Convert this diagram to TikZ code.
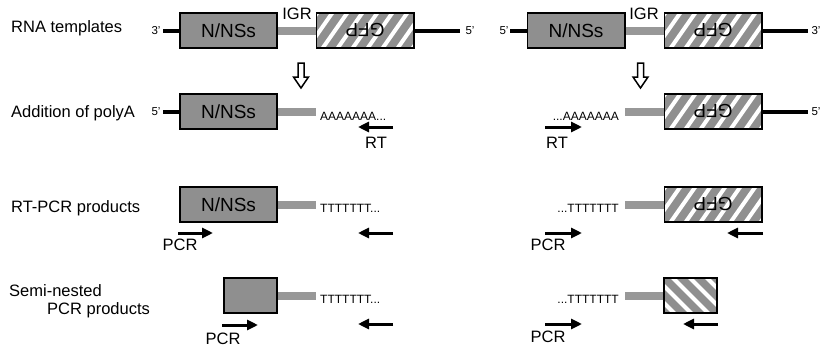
\documentclass[tikz,border=0pt]{standalone}
\usepackage{fontspec}
\setmainfont{Liberation Sans}
\usetikzlibrary{arrows.meta}
\definecolor{boxgray}{RGB}{143,143,143}
\definecolor{igrgray}{RGB}{152,152,152}
\begin{document}
\begin{tikzpicture}[x=1pt,y=-1pt,
  lbl/.style={font=\fontsize{16.5}{18}\selectfont, inner sep=0pt, anchor=west},
  prime/.style={font=\fontsize{11.5}{12}\selectfont, inner sep=0pt},
  seq/.style={font=\fontsize{12}{13}\selectfont, inner sep=0pt},
  plbl/.style={font=\fontsize{16.5}{18}\selectfont, inner sep=0pt},
  gbox/.style={draw=black, line width=1.8pt, fill=boxgray, minimum height=35.2pt, minimum width=97.2pt, inner sep=0pt, font=\fontsize{19}{20}\selectfont},
  hbox/.style={gbox, path picture={\foreach \i in {-12,...,12}{\draw[white,line width=4pt] ([xshift=\i*15pt]path picture bounding box.center) ++(-34.4pt,-49.1pt) -- ++(68.8pt,98.3pt);}}},
  hboxb/.style={gbox, path picture={\foreach \i in {-6,...,6}{\draw[white,line width=4.2pt] ([xshift=\i*17pt]path picture bounding box.center) ++(-50pt,50pt) -- ++(100pt,-100pt);}}},
  rna/.style={line width=4pt},
  igr/.style={line width=8pt, draw=igrgray},
  primer/.style={line width=3pt, -{Triangle[length=11pt,width=10pt]}},
  down/.style={draw=black, line width=1.5pt, fill=white},
]
\path[use as bounding box] (0,0) rectangle (823,348);

% row labels
\node[lbl] (l1) at (11,28) {RNA templates};
\node[lbl] (l2) at (11,113) {Addition of polyA};
\node[lbl] (l3) at (11,208) {RT-PCR products};
\node[lbl] (l4a) at (9,291) {Semi-nested};
\node[lbl] (l4b) at (47,310) {PCR products};

% ===== Row 1 left
\node[gbox] (n1) at (228.5,30.5) {N/NSs};
\node[hbox] (g1) at (365,30.5) {\rotatebox{180}{GFP}};
\coordinate (a1) at (163,30.5);
\coordinate (b1) at (460,30.5);
\draw[rna] (a1) -- (n1.west);
\draw[rna] (g1.east) -- (b1);
\draw[igr] (n1.east) -- (g1.west);
\node[prime] (p1) at (156,30.5) {3’};
\node[prime] (p2) at (470,30.5) {5’};
\node[plbl] (igr1) at (297,14) {IGR};

% ===== Row 1 right
\node[gbox] (n2) at (576,30.5) {N/NSs};
\node[hbox] (g2) at (713,30.5) {\rotatebox{180}{GFP}};
\coordinate (a2) at (510,30.5);
\coordinate (b2) at (808,30.5);
\draw[rna] (a2) -- (n2.west);
\draw[rna] (g2.east) -- (b2);
\draw[igr] (n2.east) -- (g2.west);
\node[prime] (p3) at (504,30.5) {5’};
\node[prime] (p4) at (816,30.5) {3’};
\node[plbl] (igr2) at (644,14) {IGR};

% down arrows
\draw[down] (298,63) -- (304,63) -- (304,77) -- (308.5,77) -- (301,88) -- (293.5,77) -- (298,77) -- cycle;
\draw[down] (637.5,63) -- (643.5,63) -- (643.5,77) -- (648,77) -- (640.5,88) -- (633,77) -- (637.5,77) -- cycle;

% ===== Row 2 left
\node[gbox] (n3) at (228.5,111.5) {N/NSs};
\coordinate (a3) at (163,111.5);
\coordinate (i3) at (316,111.5);
\draw[rna] (a3) -- (n3.west);
\draw[igr] (n3.east) -- (i3);
\node[prime] (p5) at (156,111.5) {5’};
\node[seq, anchor=west] (s3) at (320,116) {AAAAAAA...};
\coordinate (r3a) at (393,127);
\coordinate (r3b) at (358,127);
\draw[primer] (r3a) -- (r3b);
\node[plbl] (rt1) at (376,143) {RT};

% ===== Row 2 right
\node[hbox] (g4) at (713,111.5) {\rotatebox{180}{GFP}};
\coordinate (i4) at (625,111.5);
\coordinate (b4) at (808,111.5);
\draw[igr] (i4) -- (g4.west);
\draw[rna] (g4.east) -- (b4);
\node[prime] (p6) at (816,111.5) {5’};
\node[seq, anchor=east] (s4) at (619,116) {...AAAAAAA};
\coordinate (r4a) at (545,127);
\coordinate (r4b) at (582,127);
\draw[primer] (r4a) -- (r4b);
\node[plbl] (rt2) at (557,143) {RT};

% ===== Row 3 left
\node[gbox] (n5) at (228.5,204.5) {N/NSs};
\coordinate (i5) at (316,204.5);
\draw[igr] (n5.east) -- (i5);
\node[seq, anchor=west] (s5) at (320,208) {TTTTTTT...};
\coordinate (f5a) at (178,233);
\coordinate (f5b) at (213,233);
\draw[primer] (f5a) -- (f5b);
\node[plbl] (pcr1) at (180,245) {PCR};
\coordinate (r5a) at (393,233);
\coordinate (r5b) at (358,233);
\draw[primer] (r5a) -- (r5b);

% ===== Row 3 right
\node[hbox] (g6) at (713,204.5) {\rotatebox{180}{GFP}};
\coordinate (i6) at (625,204.5);
\draw[igr] (i6) -- (g6.west);
\node[seq, anchor=east] (s6) at (619,208) {...TTTTTTT};
\coordinate (f6a) at (545,233);
\coordinate (f6b) at (582,233);
\draw[primer] (f6a) -- (f6b);
\node[plbl] (pcr2) at (548,245) {PCR};
\coordinate (r6a) at (763,233);
\coordinate (r6b) at (727,233);
\draw[primer] (r6a) -- (r6b);

% ===== Row 4 left
\node[gbox, minimum width=53.5pt] (n7) at (250.5,295.5) {};
\coordinate (i7) at (316,295.5);
\draw[igr] (n7.east) -- (i7);
\node[seq, anchor=west] (s7) at (320,299) {TTTTTTT...};
\coordinate (f7a) at (222,325);
\coordinate (f7b) at (258,325);
\draw[primer] (f7a) -- (f7b);
\node[plbl] (pcr3) at (223,339) {PCR};
\coordinate (r7a) at (393,324);
\coordinate (r7b) at (358,324);
\draw[primer] (r7a) -- (r7b);

% ===== Row 4 right
\node[hboxb, minimum width=53.5pt] (g8) at (690.5,295.5) {};
\coordinate (i8) at (625,295.5);
\draw[igr] (i8) -- (g8.west);
\node[seq, anchor=east] (s8) at (619,299) {...TTTTTTT};
\coordinate (f8a) at (545,324);
\coordinate (f8b) at (582,324);
\draw[primer] (f8a) -- (f8b);
\node[plbl] (pcr4) at (548,337) {PCR};
\coordinate (r8a) at (718,324);
\coordinate (r8b) at (683,324);
\draw[primer] (r8a) -- (r8b);
\end{tikzpicture}
\end{document}
